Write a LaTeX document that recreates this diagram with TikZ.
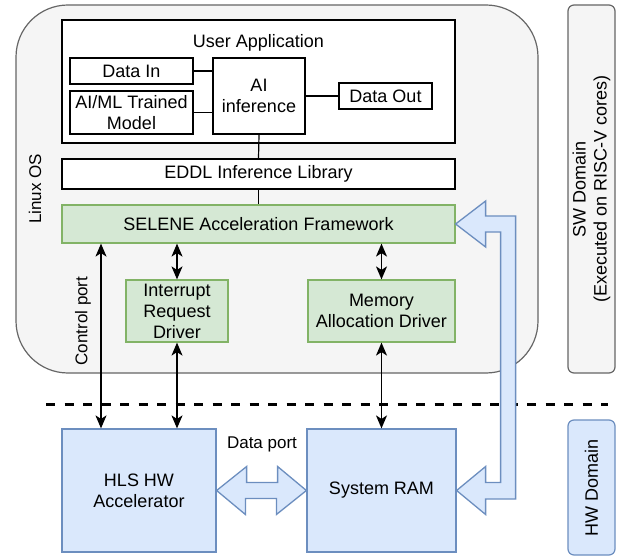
\documentclass[tikz,border=0pt]{standalone}
\usepackage{fontspec}
\setmainfont{Liberation Sans}
\usetikzlibrary{arrows.meta,calc}

\definecolor{grayfill}{HTML}{F5F5F5}
\definecolor{grayline}{HTML}{666666}
\definecolor{greenfill}{HTML}{D5E8D4}
\definecolor{greenline}{HTML}{82B366}
\definecolor{bluefill}{HTML}{DAE8FC}
\definecolor{blueline}{HTML}{6C8EBF}

\tikzset{
  box/.style={draw, fill=white, line width=1.2pt, inner sep=0pt, align=center,
    font=\fontsize{18}{21}\selectfont},
  greenbox/.style={box, draw=greenline, fill=greenfill},
  bluebox/.style={box, draw=blueline, fill=bluefill},
  domainbox/.style={box, rounded corners=6pt, rotate=90},
  lbl/.style={font=\fontsize{17}{20}\selectfont, inner sep=0pt},
  biarrow/.style={{Stealth[length=13pt,width=11pt,inset=3.5pt]}-{Stealth[length=13pt,width=11pt,inset=3.5pt]},
    line width=1.4pt},
  link/.style={line width=1.2pt},
  blockarrow/.style={draw=blueline, fill=bluefill, line width=1.3pt, line join=miter}
}

\begin{document}
\begin{tikzpicture}[x=1pt,y=-1pt]
  \useasboundingbox (0,0) rectangle (621,556);

  % Linux OS frame
  \node[box, draw=grayline, fill=grayfill, rounded corners=52pt,
    minimum width=522, minimum height=368] (linux) at (277,189) {};
  \node[lbl, rotate=90] (linuxlbl) at (35,189) {Linux OS};

  % Domain labels
  \node[domainbox, draw=grayline, fill=grayfill, minimum width=368, minimum height=47]
    (sw) at (591.5,189) {SW Domain\\(Executed on RISC-V cores)};
  \node[domainbox, draw=blueline, fill=bluefill, minimum width=135, minimum height=47]
    (hw) at (591.5,487.5) {HW Domain};

  % User application
  \node[box, minimum width=393, minimum height=123] (app) at (258.5,81.5) {};
  \node[lbl, font=\fontsize{18}{21}\selectfont] (apptitle) at (258.5,43) {User Application};
  \node[box, minimum width=123, minimum height=26] (din) at (131.5,71) {Data In};
  \node[box, minimum width=123, minimum height=43] (model) at (131.5,112.5) {AI/ML Trained\\Model};
  \node[box, minimum width=92, minimum height=76] (ai) at (259,96) {AI\\inference};
  \node[box, minimum width=93, minimum height=26] (dout) at (385.5,96) {Data Out};

  % Software stack
  \node[box, minimum width=393, minimum height=30] (eddl) at (258.5,174) {EDDL Inference Library};
  \node[greenbox, minimum width=393, minimum height=38] (selene) at (258.5,224) {SELENE Acceleration Framework};
  \node[greenbox, minimum width=102, minimum height=62] (irq) at (177,311) {Interrupt\\Request\\Driver};
  \node[greenbox, minimum width=147, minimum height=62] (mem) at (381.5,311) {Memory\\Allocation Driver};

  % Hardware
  \node[bluebox, minimum width=154, minimum height=123] (hls) at (139,490.5) {HLS HW\\Accelerator};
  \node[bluebox, minimum width=149, minimum height=123] (ram) at (381.5,490.5) {System RAM};

  % Plain links
  \draw[link] (din.east) -- (din.east -| ai.west);
  \draw[link] (model.east) -- (model.east -| ai.west);
  \draw[link] (ai.east) -- (dout.west);
  \draw[link] (ai.south) -- (eddl.north);
  \draw[link] (eddl.south) -- (selene.north);

  % SW/HW boundary
  \draw[line width=3pt, dash pattern=on 9pt off 9.5pt] (46,404) -- (608,404);

  % Driver arrows
  \draw[biarrow] (irq.north |- selene.south) -- (irq.north);
  \draw[biarrow] (mem.north |- selene.south) -- (mem.north);
  \draw[biarrow] (irq.south) -- (irq.south |- hls.north);
  \draw[biarrow] (mem.south) -- (ram.north);
  \draw[biarrow] ([xshift=-38pt]hls.north) -- ([xshift=-38pt]hls.north |- selene.south);
  \node[lbl, rotate=90] (ctrllbl) at (83,321) {Control port};

  % Data port
  \draw[blockarrow] (hls.east) -- ++(30,-24) -- ++(0,16) -- ++(31,0) -- ++(0,-16)
    -- (ram.west) -- ++(-30,24) -- ++(0,-16) -- ++(-31,0) -- ++(0,16) -- cycle;
  \node[lbl] (dport) at (262,444) {Data port};

  % Framework <-> RAM
  \draw[blockarrow] (selene.east) -- ++(30,-23) -- ++(0,15) -- ++(30,0) -- ++(0,283)
    -- ++(-30,0) -- ++(0,15.5) -- (ram.east) -- ++(29,-24) -- ++(0,16) -- ++(15,0)
    -- ++(0,-250.5) -- ++(-15,0) -- ++(0,15) -- cycle;
\end{tikzpicture}
\end{document}
